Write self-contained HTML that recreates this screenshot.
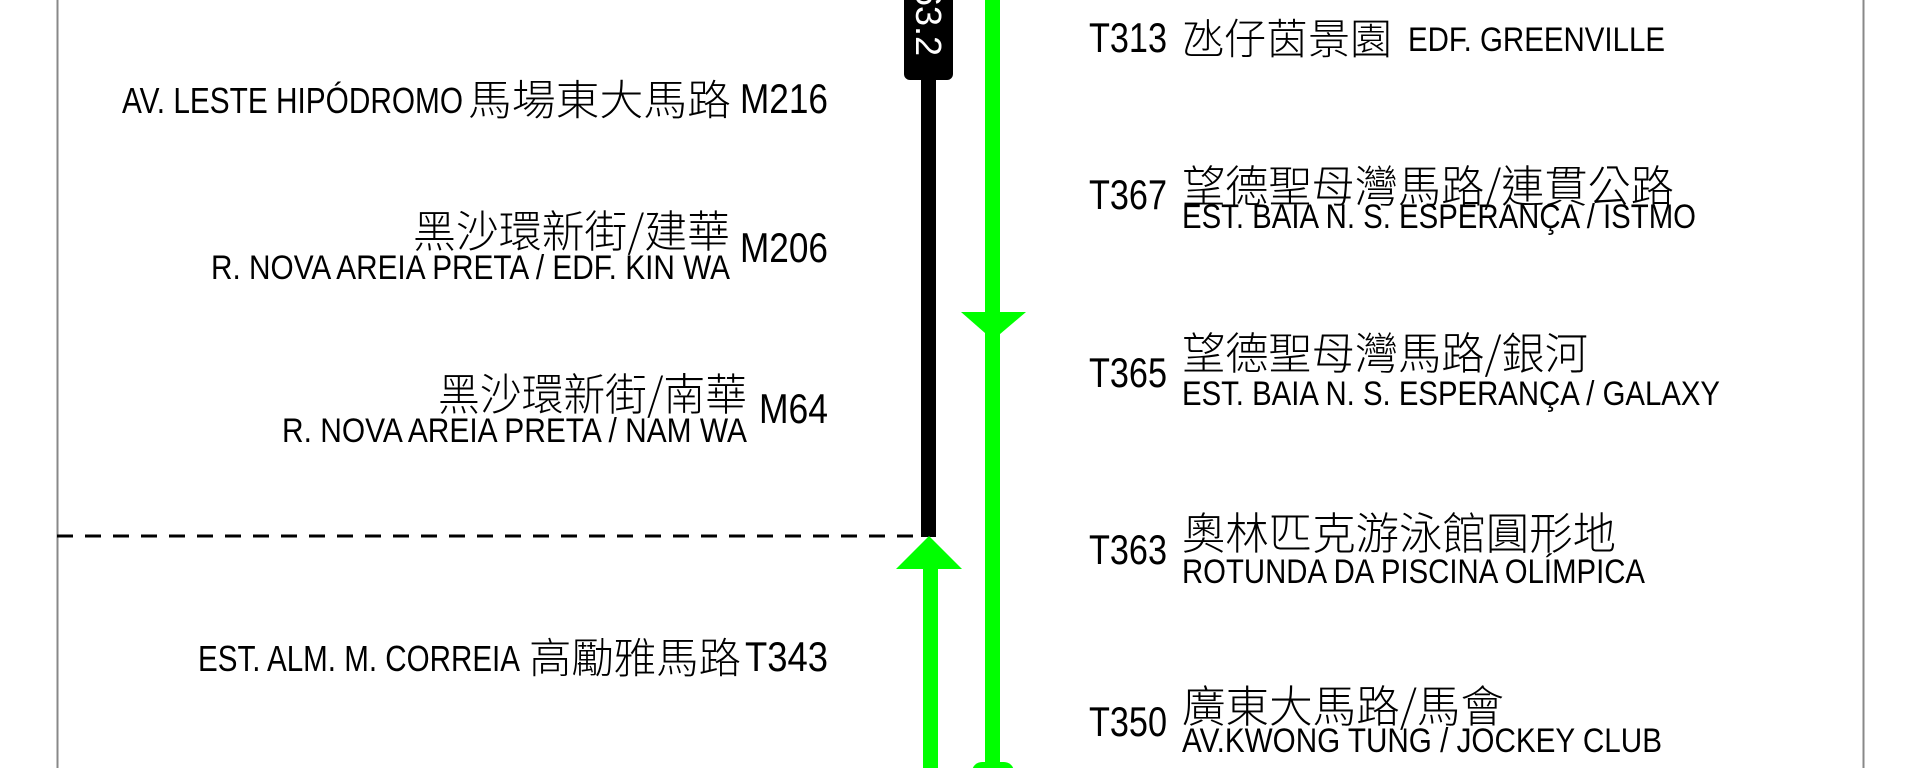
<!DOCTYPE html>
<html><head><meta charset="utf-8"><style>
html,body{margin:0;padding:0;background:#fff;}
svg{display:block;}
text{font-family:"Liberation Sans","Noto Sans CJK TC",sans-serif;fill:#000;}
.c{font-family:"Noto Sans CJK TC","WenQuanYi Zen Hei",sans-serif;font-weight:300;}
</style></head><body>
<svg width="1920" height="768" viewBox="0 0 1920 768" xmlns="http://www.w3.org/2000/svg">
<rect width="1920" height="768" fill="#fff"/>
<line x1="57.5" y1="0" x2="57.5" y2="768" stroke="#888" stroke-width="2"/>
<line x1="1863.5" y1="0" x2="1863.5" y2="768" stroke="#888" stroke-width="2"/>
<line x1="57" y1="536" x2="920" y2="536" stroke="#000" stroke-width="3" stroke-dasharray="16,12"/>
<rect x="921" y="0" width="15" height="537" fill="#000"/>
<rect x="904" y="-20" width="49" height="100" rx="6" fill="#000"/>
<text transform="translate(916,-14) rotate(90)" style="fill:#fff;font-size:36px">63.2</text>
<rect x="985" y="0" width="15" height="768" fill="#00ff00"/>
<polygon points="961,312 1026,312 993,340" fill="#00ff00"/>
<rect x="923" y="565" width="15" height="203" fill="#00ff00"/>
<polygon points="929,536 896,569 962,569" fill="#00ff00"/>
<rect x="972" y="762" width="42" height="20" rx="10" fill="#00ff00"/>

<!-- left -->
<text x="122" y="113" font-size="36" textLength="341" lengthAdjust="spacingAndGlyphs">AV. LESTE HIPÓDROMO</text>
<text class="c" x="468" y="115" font-size="42" textLength="263" lengthAdjust="spacingAndGlyphs">馬場東大馬路</text>
<text x="740" y="113" font-size="42" textLength="88" lengthAdjust="spacingAndGlyphs">M216</text>

<text class="c" x="413" y="247" font-size="44" textLength="317" lengthAdjust="spacingAndGlyphs">黑沙環新街/建華</text>
<text x="211" y="279" font-size="34" textLength="519" lengthAdjust="spacingAndGlyphs">R. NOVA AREIA PRETA / EDF. KIN WA</text>
<text x="740" y="262" font-size="42" textLength="88" lengthAdjust="spacingAndGlyphs">M206</text>

<text class="c" x="438" y="410" font-size="44" textLength="309" lengthAdjust="spacingAndGlyphs">黑沙環新街/南華</text>
<text x="282" y="442" font-size="34" textLength="465" lengthAdjust="spacingAndGlyphs">R. NOVA AREIA PRETA / NAM WA</text>
<text x="759" y="423" font-size="42" textLength="69" lengthAdjust="spacingAndGlyphs">M64</text>

<text x="198" y="671" font-size="36" textLength="322" lengthAdjust="spacingAndGlyphs">EST. ALM. M. CORREIA</text>
<text class="c" x="529" y="673" font-size="42" textLength="212" lengthAdjust="spacingAndGlyphs">高勵雅馬路</text>
<text x="745" y="671" font-size="42" textLength="83" lengthAdjust="spacingAndGlyphs">T343</text>

<!-- right -->
<text x="1089" y="52" font-size="42" textLength="78" lengthAdjust="spacingAndGlyphs">T313</text>
<text class="c" x="1182" y="54" font-size="42" textLength="210" lengthAdjust="spacingAndGlyphs">氹仔茵景園</text>
<text x="1408" y="51" font-size="34" textLength="257" lengthAdjust="spacingAndGlyphs">EDF. GREENVILLE</text>

<text x="1089" y="209" font-size="42" textLength="78" lengthAdjust="spacingAndGlyphs">T367</text>
<text class="c" x="1182" y="202" font-size="44" textLength="492" lengthAdjust="spacingAndGlyphs">望德聖母灣馬路/連貫公路</text>
<text x="1182" y="228" font-size="34" textLength="514" lengthAdjust="spacingAndGlyphs">EST. BAIA N. S. ESPERANÇA / ISTMO</text>

<text x="1089" y="387" font-size="42" textLength="78" lengthAdjust="spacingAndGlyphs">T365</text>
<text class="c" x="1182" y="369" font-size="44" textLength="406" lengthAdjust="spacingAndGlyphs">望德聖母灣馬路/銀河</text>
<text x="1182" y="405" font-size="34" textLength="538" lengthAdjust="spacingAndGlyphs">EST. BAIA N. S. ESPERANÇA / GALAXY</text>

<text x="1089" y="564" font-size="42" textLength="78" lengthAdjust="spacingAndGlyphs">T363</text>
<text class="c" x="1182" y="549" font-size="44" textLength="434" lengthAdjust="spacingAndGlyphs">奧林匹克游泳館圓形地</text>
<text x="1182" y="583" font-size="34" textLength="463" lengthAdjust="spacingAndGlyphs">ROTUNDA DA PISCINA OLÍMPICA</text>

<text x="1089" y="736" font-size="42" textLength="78" lengthAdjust="spacingAndGlyphs">T350</text>
<text class="c" x="1182" y="722" font-size="44" textLength="322" lengthAdjust="spacingAndGlyphs">廣東大馬路/馬會</text>
<text x="1182" y="752" font-size="34" textLength="480" lengthAdjust="spacingAndGlyphs">AV.KWONG TUNG / JOCKEY CLUB</text>
</svg>
</body></html>
